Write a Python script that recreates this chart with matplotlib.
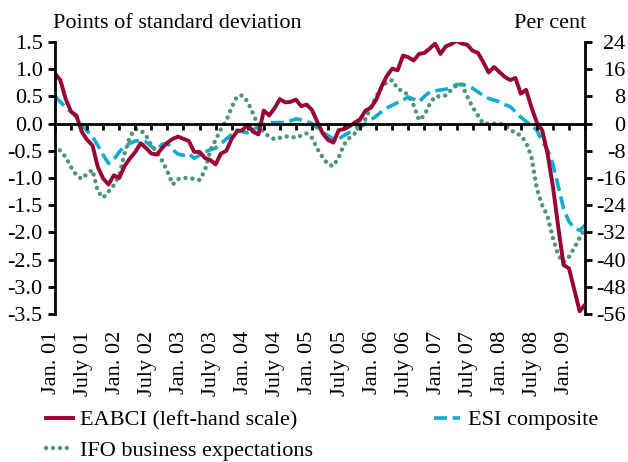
import numpy as np
import matplotlib
matplotlib.use("Agg")
import matplotlib.pyplot as plt
from matplotlib.ticker import MultipleLocator, FixedLocator
import matplotlib.transforms as mtransforms

plt.rcParams['font.family'] = ['Liberation Serif', 'DejaVu Serif']

# monthly, Jan 2001 .. Apr 2009
months = np.arange(100)

# EABCI, points of standard deviation (left-hand scale)
eabci = [0.92, 0.80, 0.45, 0.22, 0.15, -0.15, -0.30, -0.40, -0.80, -1.01,
         -1.12, -0.95, -1.00, -0.78, -0.64, -0.52, -0.36, -0.45, -0.55, -0.57,
         -0.45, -0.35, -0.28, -0.24, -0.28, -0.32, -0.52, -0.52, -0.63, -0.67,
         -0.75, -0.55, -0.50, -0.28, -0.14, -0.12, -0.02, -0.15, -0.20, 0.24,
         0.15, 0.28, 0.45, 0.39, 0.40, 0.44, 0.32, 0.35, 0.25, 0.03,
         -0.18, -0.30, -0.35, -0.12, -0.10, -0.05, 0.02, 0.08, 0.24, 0.29,
         0.44, 0.68, 0.88, 1.01, 0.98, 1.25, 1.22, 1.16, 1.28, 1.30,
         1.38, 1.47, 1.28, 1.42, 1.46, 1.52, 1.47, 1.45, 1.34, 1.30,
         1.13, 0.94, 1.04, 0.95, 0.86, 0.80, 0.84, 0.55, 0.62, 0.30,
         0.02, -0.12, -0.55, -1.15, -1.90, -2.60, -2.66, -3.05, -3.45, -3.33]

# ESI composite, per cent (right-hand scale)
esi = [8.0, 6.4, 4.8, 3.5, 1.9, -0.3, -2.2, -3.8, -6.4, -9.3,
       -11.7, -10.6, -8.3, -6.7, -5.8, -5.1, -5.0, -5.4, -6.7, -7.8,
       -6.1, -5.8, -7.7, -9.0, -9.3, -8.8, -10.2, -9.3, -8.3, -7.7,
       -7.2, -5.9, -4.5, -3.2, -1.9, -2.4, -2.7, -1.9, -0.8, -0.2,
       0.2, 0.3, 0.3, 0.3, 0.8, 1.4, 1.1, 0.6, 0.0, -1.3,
       -2.6, -3.5, -4.5, -4.5, -3.5, -2.6, -1.9, -1.0, 0.0, 1.1,
       2.2, 3.5, 4.6, 5.4, 6.2, 7.0, 7.8, 7.2, 6.4, 8.0,
       9.3, 9.6, 9.9, 10.1, 10.6, 11.5, 11.5, 11.2, 10.4, 9.3,
       8.3, 7.4, 6.9, 6.4, 5.6, 5.0, 3.5, 1.9, 0.6, -0.6,
       -1.9, -5.1, -7.7, -12.0, -18.4, -25.0, -28.8, -30.7, -31.4, -29.9]

# IFO business expectations, per cent (right-hand scale)
ifo = [-6.4, -8.0, -9.9, -12.8, -15.2, -16.3, -14.7, -13.6, -20.0, -21.8,
       -20.0, -18.1, -15.2, -8.8, -3.8, -1.6, -1.9, -3.5, -6.4, -8.3,
       -10.9, -14.1, -17.9, -16.3, -16.0, -16.0, -16.3, -16.6, -13.8, -8.0,
       -4.8, -1.6, 0.8, 4.8, 8.0, 8.3, 6.4, 2.9, -0.6, -2.6,
       -3.8, -4.6, -4.2, -3.8, -3.8, -4.2, -3.5, -2.9, -4.2, -7.4,
       -9.9, -12.0, -12.5, -9.9, -6.1, -4.2, -2.9, 1.4, 1.3, 4.8,
       8.0, 10.7, 12.2, 12.8, 10.2, 9.6, 8.3, 5.4, 1.0, 2.4,
       5.8, 8.0, 8.0, 8.3, 9.9, 11.2, 11.5, 8.0, 4.8, 2.4,
       0.0, 0.0, 0.0, 0.0, -0.5, -1.6, -2.9, -3.4, -5.6, -9.8,
       -19.2, -24.0, -27.2, -33.6, -38.7, -40.8, -39.2, -36.5, -33.6, -30.9]

label_months = list(range(0, 97, 6))
labels = ["Jan. 01", "July 01", "Jan. 02", "July 02", "Jan. 03", "July 03",
          "Jan. 04", "July 04", "Jan. 05", "July 05", "Jan. 06", "July 06",
          "Jan. 07", "July 07", "Jan. 08", "July 08", "Jan. 09"]

left_ticks = [1.5, 1.0, 0.5, 0.0, -0.5, -1.0, -1.5, -2.0, -2.5, -3.0, -3.5]
right_ticks = [24, 16, 8, 0, -8, -16, -24, -32, -40, -48, -56]

red = '#990033'
cyan = '#12ABD0'
green = '#4F9478'
fs = 16

fig = plt.figure(figsize=(6.28, 4.62), dpi=100)
ax = fig.add_axes([55 / 628, 1 - 314 / 462, 530 / 628, 272 / 462])
ax2 = ax.twinx()
ax.set_zorder(ax2.get_zorder() + 1)
ax.patch.set_visible(False)

l_esi, = ax2.plot(months, esi, color=cyan, lw=2.6, dashes=(3.6, 1.6),
                  label='ESI composite')
l_ifo, = ax2.plot(months, ifo, color=green, lw=3.2, dashes=(0.01, 1.55),
                  dash_capstyle='round', label='IFO business expectations')
l_eabci, = ax.plot(months, eabci, color=red, lw=2.8,
                   label='EABCI (left-hand scale)')

ax.set_xlim(0, 99)
ax.set_ylim(-3.5, 1.5)
ax2.set_ylim(-56, 24)

for s in ['top', 'right']:
    ax.spines[s].set_visible(False)
for s in ['top', 'left', 'bottom']:
    ax2.spines[s].set_visible(False)
ax.spines['bottom'].set_position(('data', 0))
for s in [ax.spines['left'], ax.spines['bottom'], ax2.spines['right']]:
    s.set_linewidth(2)
    s.set_color('black')

ax.set_yticks(left_ticks)
ax.set_yticklabels([f"{v:.1f}" for v in left_ticks])
ax2.set_yticks(right_ticks)
ax2.set_yticklabels([str(v) for v in right_ticks])
ax.tick_params(axis='y', direction='out', length=5, width=2, pad=4, labelsize=fs)
ax2.tick_params(axis='y', direction='out', length=5, width=2, pad=24, labelsize=fs)
for t in ax2.get_yticklabels():
    t.set_horizontalalignment('right')

ax.xaxis.set_major_locator(MultipleLocator(3))
ax.tick_params(axis='x', direction='out', length=4, width=2, labelbottom=False)

sec = ax.secondary_xaxis('bottom')
sec.xaxis.set_major_locator(FixedLocator(label_months))
sec.set_xticklabels(labels, rotation=90, fontsize=fs)
sec.tick_params(length=0, pad=12)
sec.spines['bottom'].set_visible(False)
shift = mtransforms.ScaledTranslation(-4 / 100, 0, fig.dpi_scale_trans)
for t in sec.get_xticklabels():
    t.set_transform(t.get_transform() + shift)

fig.text(53 / 628, 1 - 24 / 462, 'Points of standard deviation', fontsize=fs,
         ha='left', va='center')
fig.text(586 / 628, 1 - 24 / 462, 'Per cent', fontsize=fs, ha='right', va='center')

fig.legend([l_eabci, l_ifo, l_esi],
           ['EABCI (left-hand scale)', 'IFO business expectations', 'ESI composite'],
           ncol=2, loc='upper left', bbox_to_anchor=(37 / 628, 1 - 401 / 462),
           frameon=False, fontsize=fs, handlelength=1.2, handletextpad=0.32,
           columnspacing=5.45, labelspacing=0.45, borderaxespad=0)

fig.savefig('out.png', dpi=100)
